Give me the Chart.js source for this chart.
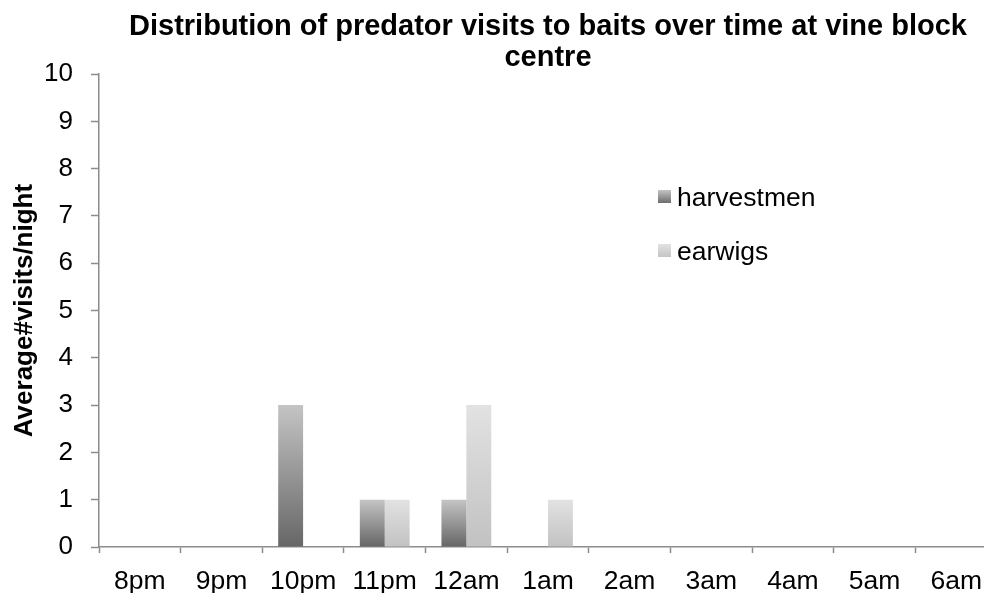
<!DOCTYPE html>
<html>
<head>
<meta charset="utf-8">
<script src="https://cdn.jsdelivr.net/npm/chart.js@4"></script>
<style>
    body { margin: 0; overflow: hidden; background: #fff; }
    canvas { display: block; }
</style>
</head>
<body>
<canvas id="grafico" width="1000" height="593"></canvas>
<script>
const horas = ["8pm", "9pm", "10pm", "11pm", "12am", "1am", "2am", "3am", "4am", "5am", "6am"];
const harvestmen = [0, 0, 3, 1, 1, 0, 0, 0, 0, 0, 0];
const earwigs = [0, 0, 0, 1, 3, 1, 0, 0, 0, 0, 0];
const valoresEixoY = [0, 10];

const fonte = "'Liberation Sans', Arial, sans-serif";
const corEixo = "#8c8c8c";

// gradiente vertical por barra: escuro embaixo, claro em cima
const gradiente = (corBase, corTopo) => {
    return (context) => {
        const chart = context.chart;
        if (!chart.chartArea || context.type !== "data") return corBase;
        const yTopo = chart.scales.y.getPixelForValue(context.raw);
        const yBase = chart.scales.y.getPixelForValue(0);
        if (yTopo === yBase) return corBase;
        const g = chart.ctx.createLinearGradient(0, yBase, 0, yTopo);
        g.addColorStop(0, corBase);
        g.addColorStop(1, corTopo);
        return g;
    };
};

const cores = {
    harvestmen: ["#666666", "#c4c4c4"],
    earwigs: ["#c2c2c2", "#e2e2e2"]
};

// legenda desenhada dentro da área do gráfico
const legendaInterna = {
    id: "legendaInterna",
    afterDraw(chart) {
        const ctx = chart.ctx;
        const posicoes = [197, 251];
        ctx.save();
        ctx.font = "26.5px " + fonte;
        ctx.textBaseline = "middle";
        chart.data.datasets.forEach((ds, i) => {
            const y = posicoes[i];
            const par = cores[ds.label];
            const g = ctx.createLinearGradient(0, y + 7, 0, y - 7);
            g.addColorStop(0, par[0]);
            g.addColorStop(1, par[1]);
            ctx.fillStyle = g;
            ctx.fillRect(658, y - 7, 13, 13);
            ctx.fillStyle = "#000";
            ctx.fillText(ds.label, 677, y + 2);
        });
        ctx.restore();
    }
};

const grafico = new Chart(document.getElementById("grafico"), {
    type: "bar",
    data: {
        labels: horas,
        datasets: [{
            label: "harvestmen",
            data: harvestmen,
            backgroundColor: gradiente(cores.harvestmen[0], cores.harvestmen[1]),
            borderWidth: 0
        }, {
            label: "earwigs",
            data: earwigs,
            backgroundColor: gradiente(cores.earwigs[0], cores.earwigs[1]),
            borderWidth: 0
        }]
    },
    options: {
        responsive: false,
        animation: false,
        devicePixelRatio: 1,
        categoryPercentage: 0.61,
        barPercentage: 1,
        layout: { padding: { left: 0, right: 3, top: 0, bottom: 0 } },
        plugins: {
            legend: { display: false },
            tooltip: { enabled: false },
            title: {
                display: true,
                fullSize: false,
                text: ["Distribution of predator visits to baits over time at vine block", "centre"],
                color: "#000",
                font: { family: fonte, size: 29, weight: "bold", lineHeight: 1.07 },
                padding: { top: 11.5, bottom: 0.5 }
            }
        },
        scales: {
            x: {
                grid: {
                    display: true,
                    drawOnChartArea: false,
                    tickLength: 6,
                    tickColor: corEixo,
                    tickWidth: 1.5,
                    offset: true
                },
                border: { color: corEixo, width: 1.5 },
                ticks: {
                    color: "#000",
                    font: { family: fonte, size: 26.5 },
                    padding: 13,
                    maxRotation: 0,
                    autoSkip: false
                },
                afterFit: (escala) => { escala.height = 46; }
            },
            y: {
                min: valoresEixoY[0],
                max: valoresEixoY[1],
                grid: {
                    display: true,
                    drawOnChartArea: false,
                    tickLength: 8,
                    tickColor: corEixo,
                    tickWidth: 1.5
                },
                border: { color: corEixo, width: 1.5 },
                ticks: {
                    stepSize: 1,
                    color: "#000",
                    font: { family: fonte, size: 26 },
                    padding: 18
                },
                title: {
                    display: true,
                    text: "Average#visits/night",
                    color: "#000",
                    font: { family: fonte, size: 26, weight: "bold" },
                    padding: { top: 9, bottom: 0 }
                },
                afterFit: (escala) => { escala.width = 99; }
            }
        }
    },
    plugins: [legendaInterna]
});
</script>
</body>
</html>
